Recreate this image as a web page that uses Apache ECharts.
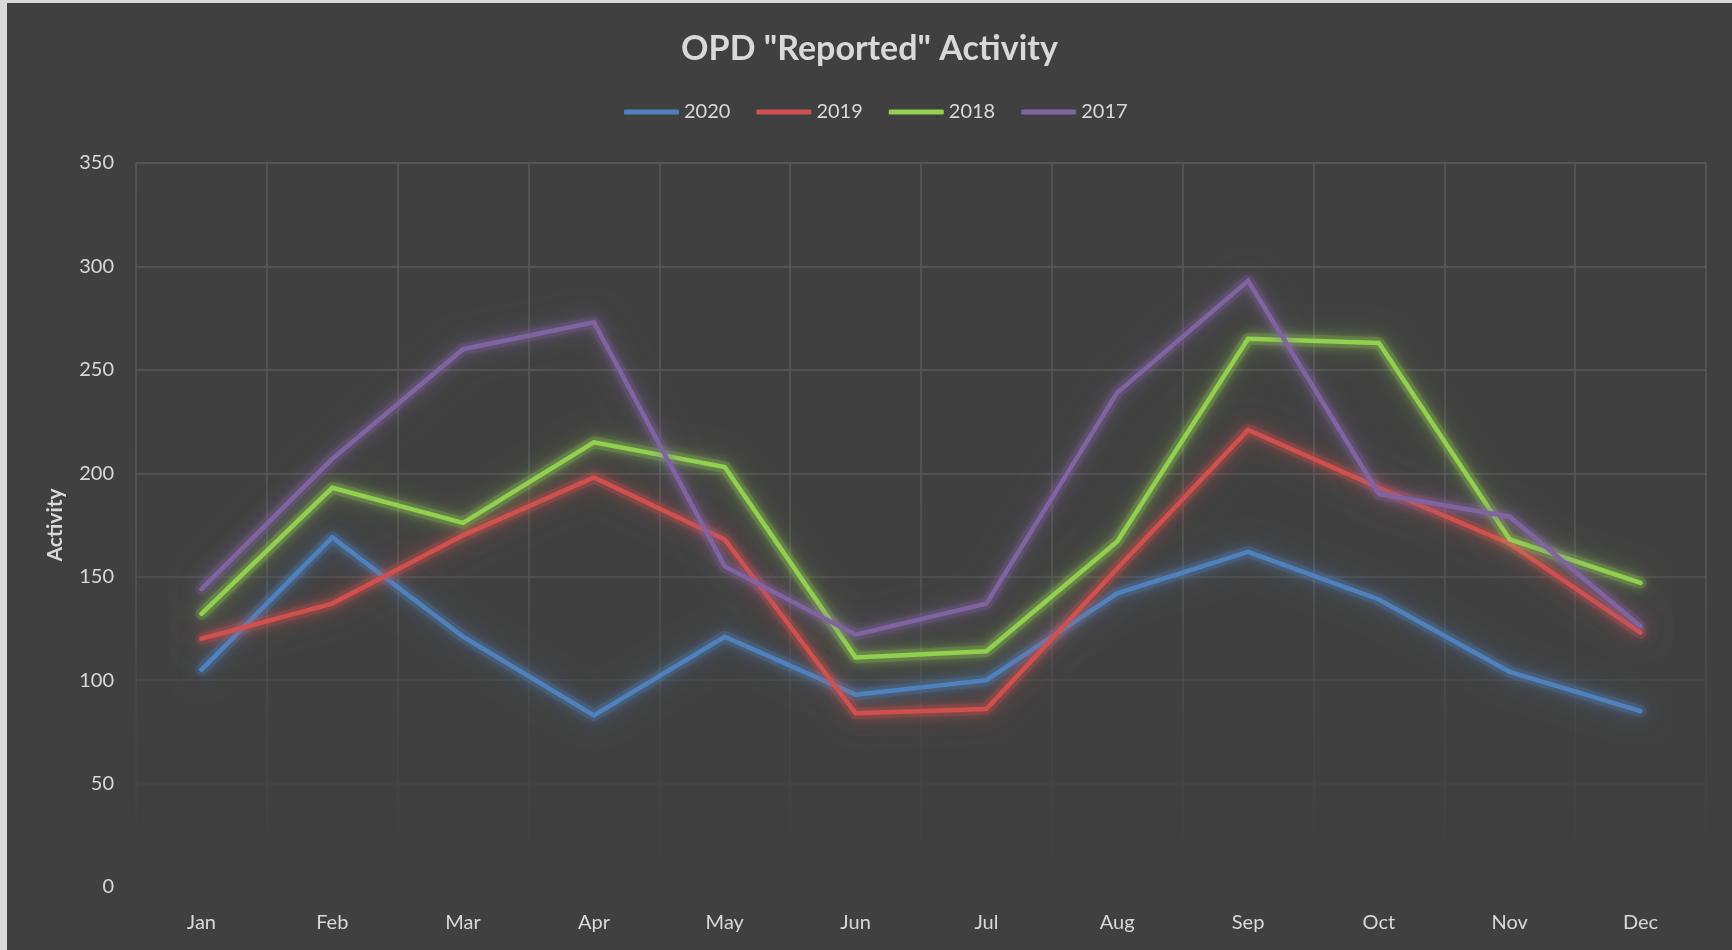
<!DOCTYPE html>
<html>
<head>
<meta charset="utf-8">
<script src="https://cdn.jsdelivr.net/npm/echarts@6/dist/echarts.min.js"></script>
<style>
html,body{margin:0;padding:0;background:#d9d9d9;width:1732px;height:950px;overflow:hidden;}
#chart{position:absolute;left:7px;top:3px;width:1725px;height:947px;}
</style>
</head>
<body>
<div id="chart"></div>
<script>
const months = ['Jan','Feb','Mar','Apr','May','Jun','Jul','Aug','Sep','Oct','Nov','Dec'];
const seriesNames = ['2020','2019','2018','2017'];
const v2020 = [105,169,121,83,121,93,100,142,162,139,104,85];
const v2019 = [120,137,170,198,168,84,86,154,221,193,166,123];
const v2018 = [132,193,176,215,203,111,114,167,265,263,168,147];
const v2017 = [144,207,260,273,155,122,137,239,293,190,179,126];
const yTicks = [0,50,100,150,200,250,300,350];

const colors = ['#4f81bd','#d0504d','#92d050','#8064a2'];
const values = [v2020, v2019, v2018, v2017];
const font = 'Lato, "Open Sans", sans-serif';

// soft glow layers drawn under the main lines (same data)
const glowSeries = seriesNames.map((n, i) => ({
  name: n + ' glow',
  type: 'line',
  data: values[i],
  symbol: 'none',
  silent: true,
  z: 1,
  itemStyle: {color: colors[i]},
  lineStyle: {
    width: 12,
    color: colors[i],
    opacity: 0.2,
    shadowBlur: 26,
    shadowColor: colors[i],
    cap: 'round',
    join: 'round'
  }
}));
const mainSeries = seriesNames.map((n, i) => ({
  name: n,
  type: 'line',
  data: values[i],
  symbol: 'none',
  z: 3,
  itemStyle: {color: colors[i]},
  lineStyle: {
    width: 4.5,
    color: colors[i],
    shadowBlur: 12,
    shadowColor: colors[i],
    cap: 'round',
    join: 'miter'
  }
}));

const chart = echarts.init(document.getElementById('chart'));
chart.setOption({
  backgroundColor: '#404040',
  animation: false,
  color: colors,
  title: {
    text: 'OPD "Reported" Activity',
    left: 'center',
    top: 24,
    textStyle: {color: '#d9d9d9', fontSize: 34, fontWeight: 'bold', fontFamily: font}
  },
  legend: {
    data: seriesNames,
    top: 94,
    left: 612,
    itemWidth: 55,
    itemHeight: 5,
    itemGap: 26,
    icon: 'roundRect',
    textStyle: {color: '#d9d9d9', fontSize: 20, fontFamily: font}
  },
  grid: {left: 129, right: 26, top: 160, bottom: 63, containLabel: false},
  xAxis: {
    type: 'category',
    data: months,
    boundaryGap: true,
    axisLine: {show: false},
    axisTick: {show: false},
    axisLabel: {color: '#d9d9d9', fontSize: 20, fontFamily: font, margin: 26},
    splitLine: {
      show: true,
      lineStyle: {
        width: 1.5,
        color: {type: 'linear', x: 0, y: 0, x2: 0, y2: 1, colorStops: [
          {offset: 0, color: '#5a5a5a'},
          {offset: 0.55, color: '#575757'},
          {offset: 0.8, color: '#454545'},
          {offset: 1, color: '#404040'}
        ]}
      }
    }
  },
  yAxis: {
    type: 'value',
    min: yTicks[0],
    max: yTicks[yTicks.length - 1],
    interval: 50,
    name: 'Activity',
    nameLocation: 'middle',
    nameGap: 70,
    nameTextStyle: {color: '#d9d9d9', fontSize: 21, fontWeight: 'bold', fontFamily: font},
    axisLine: {show: false},
    axisTick: {show: false},
    axisLabel: {color: '#d9d9d9', fontSize: 20, fontFamily: font, margin: 22},
    splitLine: {
      show: true,
      lineStyle: {
        width: 1.5,
        color: ['#404040', '#444444', '#4a4a4a', '#525252', '#575757', '#5a5a5a', '#5a5a5a', '#5c5c5c']
      }
    }
  },
  series: glowSeries.concat(mainSeries)
});
</script>
</body>
</html>
